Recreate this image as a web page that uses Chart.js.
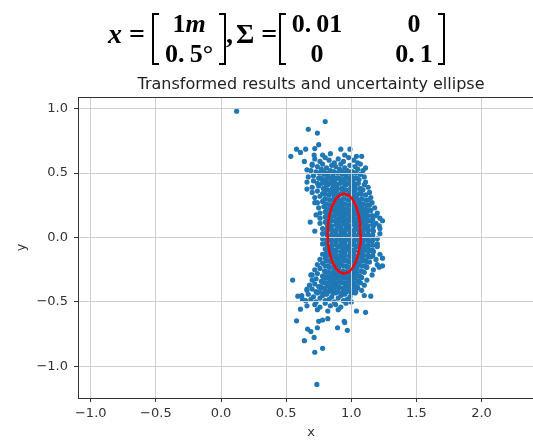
<!DOCTYPE html>
<html>
<head>
<meta charset="utf-8">
<script src="https://cdn.jsdelivr.net/npm/chart.js@4.4.1/dist/chart.umd.min.js"></script>
<style>
  html, body { margin: 0; padding: 0; background: #fff; overflow: hidden; width: 533px; height: 442px; }
  #wrap { position: absolute; left: 0; top: 0; width: 548px; height: 442px; }
  #eq { position: absolute; left: 0; top: 0; width: 533px; height: 70px; font-family: "Liberation Serif", "DejaVu Serif", serif; font-weight: bold; color: #000; }
  #eq span, #eq div { position: absolute; white-space: nowrap; }
  .big { font-size: 28px; line-height: 30px; }
  .cell { font-size: 26px; line-height: 30px; text-align: center; }
  .brl, .brr { top: 0; bottom: 0; width: 5px; border: 2px solid #000; }
  .brl { left: 0; border-right: none; }
  .brr { right: 0; border-left: none; }
</style>
</head>
<body>
<div id="wrap"><canvas id="scatterChart" width="548" height="442"></canvas></div>
<div id="eq">
  <span class="big" style="left:108px; top:19px;"><i>x</i> =</span>
  <div style="left:152px; top:13px; width:74px; height:52px;">
    <div class="brl"></div><div class="brr"></div>
    <span class="cell" style="left:0; width:74px; top:-4px;">1<i>m</i></span>
    <span class="cell" style="left:0; width:74px; top:26px;">0.&#8201;5°</span>
  </div>
  <span class="big" style="left:226px; top:19px;">,</span>
  <span class="big" style="left:236px; top:19px;">Σ =</span>
  <div style="left:279px; top:13px; width:166px; height:52px;">
    <div class="brl"></div><div class="brr"></div>
    <span class="cell" style="left:6px; width:64px; top:-4px;">0.&#8201;01</span>
    <span class="cell" style="left:6px; width:64px; top:26px;">0</span>
    <span class="cell" style="left:110px; width:50px; top:-4px;">0</span>
    <span class="cell" style="left:110px; width:50px; top:26px;">0.&#8201;1</span>
  </div>
</div>
<script>
// Chart data
const chartTitle = 'Transformed results and uncertainty ellipse';
const xTickValues = [-1.0, -0.5, 0.0, 0.5, 1.0, 1.5, 2.0];
const yTickValues = [-1.0, -0.5, 0.0, 0.5, 1.0];

const samplePoints = [
  [0.12,0.98],
  [0.80,0.90],[0.67,0.84],[0.74,0.81],[0.75,0.72],[0.72,0.69],[0.58,0.685],[0.61,0.66],[0.536,0.63],
  [0.65,0.685],[0.715,0.64],[0.92,0.685],[0.99,0.685],[0.64,0.59],[0.78,0.64],[1.04,0.63],[1.08,0.63],
  [1.11,0.54],[0.66,0.525],[0.70,0.57],[0.84,0.65],[0.95,0.64],
  [0.72,0.61],[0.76,0.59],[0.80,0.62],[0.83,0.60],[0.87,0.58],[0.90,0.61],[0.94,0.59],[0.98,0.62],[1.02,0.60],[1.05,0.58],
  [0.70,0.56],[0.74,0.55],[0.78,0.57],[0.81,0.54],[0.85,0.56],[0.88,0.55],[0.92,0.57],[0.95,0.54],[0.99,0.56],[1.03,0.55],[1.07,0.57],
  [0.69,0.52],[0.73,0.51],[0.77,0.53],[0.80,0.50],[0.84,0.52],[0.87,0.51],[0.91,0.53],[0.94,0.50],[0.97,0.52],[1.01,0.51],[1.05,0.53],[1.09,0.52],
  [0.67,0.47],[0.71,0.48],[0.75,0.46],[0.79,0.49],[0.82,0.47],[0.86,0.48],[0.89,0.46],[0.93,0.49],[0.96,0.47],[1.00,0.48],[1.03,0.46],[1.07,0.49],[1.10,0.47],
  [0.66,0.43],[0.71,0.44],[0.74,0.42],[0.78,0.45],[0.81,0.43],[0.85,0.44],[0.88,0.42],[0.92,0.45],[0.95,0.43],[0.99,0.44],[1.02,0.42],[1.06,0.45],[1.11,0.43],
  [0.70,0.39],[0.75,0.40],[0.79,0.38],[0.82,0.41],[0.86,0.39],[0.89,0.40],[0.93,0.38],[0.96,0.41],[1.00,0.39],[1.03,0.40],[1.07,0.38],[1.10,0.41],[1.13,0.39],
  [0.66,0.376],[0.70,0.35],[0.74,0.36],[0.78,0.34],[0.81,0.37],[0.85,0.35],[0.88,0.36],[0.92,0.34],[0.95,0.37],[0.99,0.35],[1.02,0.36],[1.06,0.34],[1.09,0.37],[1.14,0.35],
  [0.72,0.31],[0.76,0.32],[0.80,0.30],[0.83,0.33],[0.87,0.31],[0.90,0.32],[0.94,0.30],[0.97,0.33],[1.01,0.31],[1.04,0.32],[1.08,0.30],[1.11,0.33],[1.15,0.31],
  [0.72,0.27],[0.74,0.27],[0.78,0.28],[0.81,0.26],[0.85,0.29],[0.88,0.27],[0.92,0.28],[0.95,0.26],[0.99,0.29],[1.02,0.27],[1.06,0.28],[1.09,0.26],[1.13,0.29],[1.16,0.27],
  [0.75,0.23],[0.79,0.24],[0.82,0.22],[0.86,0.25],[0.89,0.23],[0.93,0.24],[0.96,0.22],[1.00,0.25],[1.03,0.23],[1.07,0.24],[1.10,0.22],[1.14,0.25],[1.18,0.23],
  [0.76,0.19],[0.80,0.20],[0.83,0.18],[0.87,0.21],[0.90,0.19],[0.94,0.20],[0.97,0.18],[1.01,0.21],[1.04,0.19],[1.08,0.20],[1.11,0.18],[1.15,0.21],[1.20,0.19],
  [0.73,0.175],[0.76,0.15],[0.80,0.16],[0.84,0.14],[0.87,0.17],[0.91,0.15],[0.94,0.16],[0.98,0.14],[1.01,0.17],[1.05,0.15],[1.08,0.16],[1.12,0.14],[1.16,0.17],[1.19,0.17],[1.22,0.15],
  [0.685,0.12],[0.76,0.11],[0.80,0.12],[0.83,0.10],[0.87,0.13],[0.90,0.11],[0.94,0.12],[0.97,0.10],[1.01,0.13],[1.04,0.11],[1.08,0.12],[1.11,0.10],[1.15,0.13],[1.19,0.11],[1.24,0.13],
  [0.78,0.07],[0.82,0.08],[0.85,0.06],[0.89,0.09],[0.92,0.07],[0.96,0.08],[0.99,0.06],[1.03,0.09],[1.06,0.07],[1.10,0.08],[1.13,0.06],[1.17,0.09],[1.215,0.09],[1.22,0.07],
  [0.72,0.05],[0.78,0.03],[0.81,0.04],[0.85,0.02],[0.88,0.05],[0.92,0.03],[0.95,0.04],[0.99,0.02],[1.02,0.05],[1.06,0.03],[1.09,0.04],[1.13,0.02],[1.17,0.05],[1.22,0.03],
  [0.78,-0.01],[0.82,0.00],[0.85,-0.02],[0.89,0.01],[0.92,-0.01],[0.96,0.00],[0.99,-0.02],[1.03,0.01],[1.06,-0.01],[1.10,0.00],[1.13,-0.02],[1.16,0.01],[1.20,-0.01],
  [0.78,-0.05],[0.81,-0.04],[0.85,-0.06],[0.88,-0.03],[0.92,-0.05],[0.95,-0.04],[0.99,-0.06],[1.02,-0.03],[1.06,-0.05],[1.09,-0.04],[1.13,-0.06],[1.16,-0.03],[1.20,-0.05],
  [0.80,-0.09],[0.83,-0.08],[0.87,-0.10],[0.90,-0.07],[0.94,-0.09],[0.97,-0.08],[1.01,-0.10],[1.04,-0.07],[1.08,-0.09],[1.11,-0.08],[1.15,-0.10],[1.20,-0.07],
  [0.78,-0.13],[0.81,-0.12],[0.85,-0.14],[0.88,-0.11],[0.92,-0.13],[0.95,-0.12],[0.99,-0.14],[1.02,-0.11],[1.06,-0.13],[1.09,-0.12],[1.13,-0.14],[1.17,-0.11],[1.22,-0.13],
  [0.76,-0.17],[0.80,-0.16],[0.83,-0.18],[0.87,-0.15],[0.90,-0.17],[0.94,-0.16],[0.97,-0.18],[1.01,-0.15],[1.04,-0.17],[1.08,-0.16],[1.11,-0.18],[1.15,-0.15],[1.19,-0.17],[1.24,-0.16],
  [0.74,-0.21],[0.78,-0.20],[0.82,-0.22],[0.85,-0.19],[0.89,-0.21],[0.92,-0.20],[0.96,-0.22],[0.99,-0.19],[1.03,-0.21],[1.06,-0.20],[1.10,-0.22],[1.14,-0.19],[1.20,-0.21],[1.24,-0.22],
  [0.72,-0.25],[0.76,-0.24],[0.80,-0.26],[0.83,-0.23],[0.87,-0.25],[0.90,-0.24],[0.94,-0.26],[0.97,-0.23],[1.01,-0.25],[1.04,-0.24],[1.08,-0.26],[1.12,-0.23],[1.17,-0.25],[1.215,-0.23],
  [0.69,-0.29],[0.70,-0.29],[0.74,-0.28],[0.78,-0.30],[0.81,-0.27],[0.85,-0.29],[0.88,-0.28],[0.92,-0.30],[0.95,-0.27],[0.99,-0.29],[1.02,-0.28],[1.06,-0.30],[1.10,-0.27],[1.16,-0.29],
  [0.55,-0.33],[0.70,-0.33],[0.73,-0.32],[0.77,-0.34],[0.80,-0.31],[0.84,-0.33],[0.87,-0.32],[0.91,-0.34],[0.94,-0.31],[0.98,-0.33],[1.01,-0.32],[1.05,-0.34],[1.08,-0.31],[1.12,-0.33],
  [0.68,-0.37],[0.72,-0.36],[0.75,-0.38],[0.79,-0.35],[0.82,-0.37],[0.86,-0.36],[0.89,-0.38],[0.93,-0.35],[0.96,-0.37],[1.00,-0.36],[1.03,-0.38],[1.07,-0.35],[1.10,-0.37],
  [0.66,-0.40],[0.66,-0.41],[0.70,-0.40],[0.73,-0.42],[0.77,-0.39],[0.80,-0.41],[0.84,-0.40],[0.87,-0.42],[0.91,-0.39],[0.94,-0.41],[0.98,-0.40],[1.01,-0.42],[1.05,-0.39],[1.08,-0.41],
  [0.59,-0.455],[0.62,-0.45],[0.67,-0.44],[0.71,-0.46],[0.74,-0.43],[0.78,-0.45],[0.81,-0.44],[0.85,-0.46],[0.88,-0.43],[0.92,-0.45],[0.95,-0.44],[0.99,-0.46],[1.03,-0.43],[1.10,-0.45],[1.15,-0.455],
  [0.625,-0.48],[0.65,-0.49],[0.69,-0.48],[0.73,-0.50],[0.76,-0.47],[0.80,-0.49],[0.83,-0.48],[0.87,-0.50],[0.90,-0.47],[0.94,-0.49],[0.97,-0.48],[1.00,-0.50],
  [0.66,-0.53],[0.72,-0.52],[0.76,-0.54],[0.80,-0.51],[0.84,-0.53],[0.88,-0.52],[0.92,-0.54],[0.96,-0.51],
  [0.61,-0.556],[0.74,-0.56],[0.82,-0.57],[0.90,-0.56],[1.04,-0.57],[1.11,-0.58],
  [0.58,-0.646],[0.75,-0.65],[0.82,-0.63],[0.78,-0.64],[0.946,-0.65],[0.95,-0.66],
  [0.665,-0.71],[0.69,-0.73],[0.715,-0.775],[0.74,-0.70],[0.895,-0.70],[0.97,-0.72],
  [0.64,-0.80],[0.78,-0.86],[0.72,-0.89],[0.736,-1.14]
];

// dense core of the cloud [x, y]
const corePoints = [
  [0.755,0.50],[0.79,0.51],[0.825,0.50],[0.86,0.51],[0.895,0.50],[0.93,0.51],[0.965,0.50],[1.00,0.51],[1.035,0.50],
  [0.765,0.46],[0.80,0.45],[0.835,0.46],[0.87,0.45],[0.905,0.46],[0.94,0.45],[0.975,0.46],[1.01,0.45],[1.045,0.46],
  [0.775,0.42],[0.81,0.41],[0.845,0.42],[0.88,0.41],[0.915,0.42],[0.95,0.41],[0.985,0.42],[1.02,0.41],[1.055,0.42],
  [0.785,0.38],[0.82,0.37],[0.855,0.38],[0.89,0.37],[0.925,0.38],[0.96,0.37],[0.995,0.38],[1.03,0.37],[1.065,0.38],
  [0.795,0.34],[0.83,0.33],[0.865,0.34],[0.90,0.33],[0.935,0.34],[0.97,0.33],[1.005,0.34],[1.04,0.33],[1.075,0.34],
  [0.80,0.30],[0.835,0.29],[0.87,0.30],[0.905,0.29],[0.94,0.30],[0.975,0.29],[1.01,0.30],[1.045,0.29],[1.08,0.30],[1.115,0.29],
  [0.805,0.26],[0.84,0.25],[0.875,0.26],[0.91,0.25],[0.945,0.26],[0.98,0.25],[1.015,0.26],[1.05,0.25],[1.085,0.26],[1.12,0.25],
  [0.81,0.22],[0.845,0.21],[0.88,0.22],[0.915,0.21],[0.95,0.22],[0.985,0.21],[1.02,0.22],[1.055,0.21],[1.09,0.22],[1.125,0.21],
  [0.815,0.18],[0.85,0.17],[0.885,0.18],[0.92,0.17],[0.955,0.18],[0.99,0.17],[1.025,0.18],[1.06,0.17],[1.095,0.18],[1.13,0.17],
  [0.815,0.14],[0.85,0.13],[0.885,0.14],[0.92,0.13],[0.955,0.14],[0.99,0.13],[1.025,0.14],[1.06,0.13],[1.095,0.14],[1.13,0.13],[1.165,0.14],
  [0.815,0.10],[0.85,0.09],[0.885,0.10],[0.92,0.09],[0.955,0.10],[0.99,0.09],[1.025,0.10],[1.06,0.09],[1.095,0.10],[1.13,0.09],[1.165,0.10],
  [0.815,0.06],[0.85,0.05],[0.885,0.06],[0.92,0.05],[0.955,0.06],[0.99,0.05],[1.025,0.06],[1.06,0.05],[1.095,0.06],[1.13,0.05],[1.165,0.06],
  [0.815,0.02],[0.85,0.01],[0.885,0.02],[0.92,0.01],[0.955,0.02],[0.99,0.01],[1.025,0.02],[1.06,0.01],[1.095,0.02],[1.13,0.01],[1.165,0.02],
  [0.815,-0.02],[0.85,-0.03],[0.885,-0.02],[0.92,-0.03],[0.955,-0.02],[0.99,-0.03],[1.025,-0.02],[1.06,-0.03],[1.095,-0.02],[1.13,-0.03],[1.165,-0.02],
  [0.815,-0.06],[0.85,-0.07],[0.885,-0.06],[0.92,-0.07],[0.955,-0.06],[0.99,-0.07],[1.025,-0.06],[1.06,-0.07],[1.095,-0.06],[1.13,-0.07],[1.165,-0.06],
  [0.815,-0.10],[0.85,-0.11],[0.885,-0.10],[0.92,-0.11],[0.955,-0.10],[0.99,-0.11],[1.025,-0.10],[1.06,-0.11],[1.095,-0.10],[1.13,-0.11],[1.165,-0.10],
  [0.815,-0.14],[0.85,-0.15],[0.885,-0.14],[0.92,-0.15],[0.955,-0.14],[0.99,-0.15],[1.025,-0.14],[1.06,-0.15],[1.095,-0.14],[1.13,-0.15],[1.165,-0.14],
  [0.81,-0.18],[0.845,-0.19],[0.88,-0.18],[0.915,-0.19],[0.95,-0.18],[0.985,-0.19],[1.02,-0.18],[1.055,-0.19],[1.09,-0.18],[1.125,-0.19],
  [0.80,-0.22],[0.835,-0.23],[0.87,-0.22],[0.905,-0.23],[0.94,-0.22],[0.975,-0.23],[1.01,-0.22],[1.045,-0.23],[1.08,-0.22],[1.115,-0.23],
  [0.795,-0.26],[0.83,-0.27],[0.865,-0.26],[0.90,-0.27],[0.935,-0.26],[0.97,-0.27],[1.005,-0.26],[1.04,-0.27],[1.075,-0.26],
  [0.785,-0.30],[0.82,-0.31],[0.855,-0.30],[0.89,-0.31],[0.925,-0.30],[0.96,-0.31],[0.995,-0.30],[1.03,-0.31],[1.065,-0.30],
  [0.775,-0.34],[0.81,-0.35],[0.845,-0.34],[0.88,-0.35],[0.915,-0.34],[0.95,-0.35],[0.985,-0.34],[1.02,-0.35],[1.055,-0.34],
  [0.765,-0.38],[0.80,-0.39],[0.835,-0.38],[0.87,-0.39],[0.905,-0.38],[0.94,-0.39],[0.975,-0.38],[1.01,-0.39],[1.045,-0.38],
  [0.755,-0.42],[0.79,-0.43],[0.825,-0.42],[0.86,-0.43],[0.895,-0.42],[0.93,-0.43],[0.965,-0.42],[1.00,-0.43],[1.035,-0.42]
];

// uncertainty ellipse outline
const ellipseX = [1.072,1.068,1.055,1.035,1.009,0.978,0.945,0.912,0.882,0.855,0.835,0.822,0.818,
                  0.822,0.835,0.855,0.882,0.912,0.945,0.978,1.009,1.035,1.055,1.068,1.072];
const ellipseY = [0.030,0.110,0.185,0.249,0.299,0.329,0.340,0.329,0.299,0.249,0.185,0.110,0.030,
                  -0.050,-0.125,-0.189,-0.239,-0.269,-0.280,-0.269,-0.239,-0.189,-0.125,-0.050,0.030];

const fmtTick = v => v.toFixed(1).replace('-', '\u2212');
const tickFont = { family: 'DejaVu Sans', size: 13 };
const gridColor = '#cfcfcf';

// grid lines go over the scatter but under the ellipse (like matplotlib), plus frame and title
const framePlugin = {
    id: 'frame',
    beforeDatasetDraw(chart, args) {
        if (args.index !== 0) return;
        const { ctx, chartArea, scales } = chart;
        ctx.save();
        ctx.strokeStyle = gridColor;
        ctx.lineWidth = 1;
        ctx.beginPath();
        xTickValues.forEach(v => {
            const px = Math.round(scales.x.getPixelForValue(v) - 0.5) + 0.5;
            ctx.moveTo(px, chartArea.top);
            ctx.lineTo(px, chartArea.bottom);
        });
        yTickValues.forEach(v => {
            const py = Math.round(scales.y.getPixelForValue(v) - 0.5) + 0.5;
            ctx.moveTo(chartArea.left, py);
            ctx.lineTo(chartArea.right, py);
        });
        ctx.stroke();
        ctx.restore();
    },
    afterDatasetsDraw(chart) {
        const { ctx, chartArea } = chart;
        ctx.save();
        ctx.strokeStyle = '#333';
        ctx.lineWidth = 1;
        ctx.strokeRect(chartArea.left + 0.5, chartArea.top + 0.5, chartArea.right - chartArea.left, chartArea.bottom - chartArea.top);
        ctx.restore();
    },
    afterDraw(chart) {
        const { ctx, chartArea } = chart;
        ctx.save();
        ctx.fillStyle = '#222';
        ctx.font = '16px "DejaVu Sans"';
        ctx.textAlign = 'center';
        ctx.textBaseline = 'alphabetic';
        ctx.fillText(chartTitle, (chartArea.left + chartArea.right) / 2, chartArea.top - 8);
        ctx.restore();
    }
};

const allPoints = samplePoints.concat(corePoints);

const ctx = document.getElementById('scatterChart').getContext('2d');
new Chart(ctx, {
    type: 'scatter',
    data: {
        datasets: [{
            label: 'ellipse',
            data: ellipseX.map((x, i) => ({ x: x, y: ellipseY[i] })),
            showLine: true,
            borderColor: '#ff0000',
            borderWidth: 2.5,
            pointRadius: 0,
            fill: false,
            order: 0
        }, {
            label: 'samples',
            data: allPoints.map(p => ({ x: p[0], y: p[1] })),
            backgroundColor: '#1f77b4',
            borderWidth: 0,
            pointRadius: 2.6,
            order: 1
        }]
    },
    options: {
        responsive: false,
        animation: false,
        devicePixelRatio: 1,
        layout: { padding: { top: 97, right: 3, bottom: 0, left: 0 } },
        plugins: {
            legend: { display: false },
            tooltip: { enabled: false }
        },
        scales: {
            x: {
                type: 'linear',
                min: -1.098,
                max: 2.48,
                afterBuildTicks: scale => { scale.ticks = xTickValues.map(v => ({ value: v })); },
                afterFit: scale => { scale.height = 44; },
                ticks: { callback: fmtTick, color: '#333', font: tickFont, padding: 4, maxRotation: 0 },
                grid: { drawOnChartArea: false, lineWidth: 1, tickLength: 4, tickColor: '#333' },
                border: { color: '#333', width: 1 },
                title: { display: true, text: 'x', color: '#333', font: tickFont, padding: { top: 0, bottom: 2 } }
            },
            y: {
                type: 'linear',
                min: -1.245,
                max: 1.09,
                afterBuildTicks: scale => { scale.ticks = yTickValues.map(v => ({ value: v })); },
                afterFit: scale => { scale.width = 78; },
                ticks: { callback: fmtTick, color: '#333', font: tickFont, padding: 6 },
                grid: { drawOnChartArea: false, lineWidth: 1, tickLength: 4, tickColor: '#333' },
                border: { color: '#333', width: 1 },
                title: { display: true, text: 'y', color: '#333', font: tickFont, padding: { top: 14, bottom: 0 } }
            }
        }
    },
    plugins: [framePlugin]
});
</script>
</body>
</html>
